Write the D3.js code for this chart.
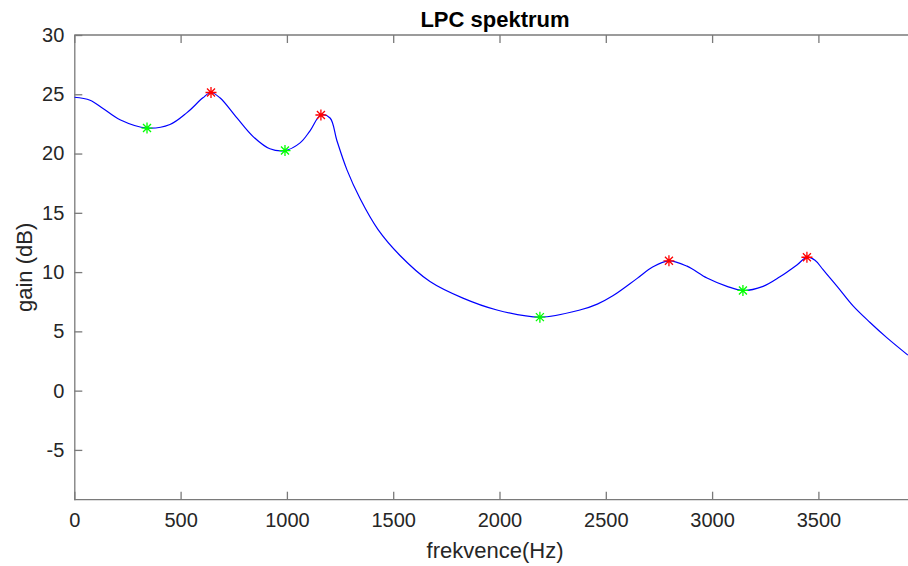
<!DOCTYPE html>
<html>
<head>
    <meta charset="UTF-8"/>
    <style>
        body {
            margin: 0;
            background: white;
            font-family: Arial, "Liberation Sans", Helvetica, sans-serif;
        }
    </style>
</head>
<body>
<script src="https://d3js.org/d3.v7.min.js"></script>
<div id="my_dataviz"></div>
<script>

    // spectrum (Hz, dB)
    var freqs = [0, 74, 135, 215, 342, 450, 530, 605, 643, 685, 765, 840, 920, 991, 1062, 1108, 1160, 1203,
        1235, 1283, 1344, 1428, 1532, 1673, 1828, 1988, 2190, 2378, 2460, 2533, 2646, 2722, 2797, 2882, 2976,
        3070, 3145, 3240, 3319, 3399, 3446, 3484, 3522, 3588, 3663, 3743, 3823, 3921];
    var gains = [24.75, 24.5, 23.8, 22.85, 22.15, 22.45, 23.45, 24.7, 25.15, 24.7, 23.0, 21.45, 20.4, 20.25, 20.9, 21.9, 23.25, 23.0,
        21.1, 18.6, 16.2, 13.6, 11.4, 9.2, 7.8, 6.8, 6.2, 6.8, 7.3, 8.0, 9.45, 10.45, 10.95, 10.5, 9.5,
        8.8, 8.45, 8.8, 9.6, 10.6, 11.25, 11.0, 10.2, 8.8, 7.15, 5.75, 4.45, 3.0];

    // maxima (red) and minima (green)
    var peakFreqs = [643, 1160, 2797, 3446];
    var peakGains = [25.15, 23.25, 10.95, 11.25];
    var valleyFreqs = [342, 991, 2190, 3145];
    var valleyGains = [22.15, 20.25, 6.2, 8.45];

    var xTicks = [0, 500, 1000, 1500, 2000, 2500, 3000, 3500];
    var yTicks = [-5, 0, 5, 10, 15, 20, 25, 30];

    var width = 908, height = 566;
    var mLeft = 74.3, mTop = 35, mBottom = 499.7;

    var svg = d3.select("#my_dataviz")
        .append("svg")
        .attr("width", width)
        .attr("height", height);

    // the axes run on past the right edge of the picture
    var x = d3.scaleLinear().domain([0, 4000]).range([mLeft, mLeft + 850.4]);
    var y = d3.scaleLinear().domain([-9.2, 30]).range([mBottom, mTop]);

    var axisColor = "#7a7a7a";
    var textColor = "#262626";
    var plain = function (d) { return String(d); };   // keep the ascii hyphen for -5

    svg.append("clipPath")
        .attr("id", "plotclip")
        .append("rect")
        .attr("x", mLeft)
        .attr("y", mTop)
        .attr("width", width - mLeft)
        .attr("height", mBottom - mTop);

    function styleAxis(g) {
        g.select(".domain").attr("stroke", axisColor).attr("stroke-width", 1.3);
        g.selectAll(".tick line").attr("stroke", axisColor).attr("stroke-width", 1.3);
        g.selectAll(".tick text")
            .attr("fill", textColor)
            .attr("font-size", "20px")
            .attr("font-family", "Arial, 'Liberation Sans', Helvetica, sans-serif");
    }

    // bottom axis, ticks pointing inwards
    svg.append("g")
        .attr("transform", "translate(0," + mBottom + ")")
        .call(d3.axisBottom(x).tickValues(xTicks).tickFormat(plain)
            .tickSizeInner(-8).tickSizeOuter(0).tickPadding(13))
        .call(styleAxis)
        .call(function (g) { g.select(".domain").attr("d", "M" + mLeft + ",0H" + width); });

    // top edge of the box
    svg.append("g")
        .attr("transform", "translate(0," + mTop + ")")
        .call(d3.axisTop(x).tickValues(xTicks).tickFormat("")
            .tickSizeInner(-8).tickSizeOuter(0))
        .call(styleAxis)
        .call(function (g) { g.select(".domain").attr("d", "M" + mLeft + ",0H" + width); });

    // left axis
    svg.append("g")
        .attr("transform", "translate(" + mLeft + ",0)")
        .call(d3.axisLeft(y).tickValues(yTicks).tickFormat(plain)
            .tickSizeInner(-8).tickSizeOuter(0).tickPadding(10))
        .call(styleAxis);

    // spectrum line
    var line = d3.line()
        .x(function (d, i) { return x(freqs[i]); })
        .y(function (d, i) { return y(gains[i]); })
        .curve(d3.curveCatmullRom.alpha(0.5));

    svg.append("path")
        .attr("clip-path", "url(#plotclip)")
        .attr("d", line(freqs))
        .attr("fill", "none")
        .attr("stroke", "#0000ff")
        .attr("stroke-width", 1.2);

    // matlab-like '*' marker
    var r = 5.5, rd = 4;
    var star = "M" + (-r) + ",0L" + r + ",0M0," + (-r) + "L0," + r +
        "M" + (-rd) + "," + (-rd) + "L" + rd + "," + rd +
        "M" + (-rd) + "," + rd + "L" + rd + "," + (-rd);

    function drawMarkers(fs, gs, color) {
        svg.append("g")
            .selectAll("path")
            .data(fs)
            .enter()
            .append("path")
            .attr("transform", function (d, i) { return "translate(" + x(d) + "," + y(gs[i]) + ")"; })
            .attr("d", star)
            .attr("fill", "none")
            .attr("stroke", color)
            .attr("stroke-width", 1.3);
    }
    drawMarkers(valleyFreqs, valleyGains, "#00ff00");
    drawMarkers(peakFreqs, peakGains, "#ff0000");

    // title and labels
    svg.append("text")
        .attr("x", 495)
        .attr("y", 27)
        .attr("text-anchor", "middle")
        .attr("font-size", "22px")
        .attr("font-weight", "bold")
        .attr("fill", "#000")
        .text("LPC spektrum");

    svg.append("text")
        .attr("x", 495)
        .attr("y", 558)
        .attr("text-anchor", "middle")
        .attr("font-size", "22px")
        .attr("fill", textColor)
        .text("frekvence(Hz)");

    svg.append("text")
        .attr("transform", "translate(32," + (mTop + mBottom) / 2 + ") rotate(-90)")
        .attr("text-anchor", "middle")
        .attr("font-size", "22px")
        .attr("fill", textColor)
        .text("gain (dB)");

</script>
</body>
</html>
